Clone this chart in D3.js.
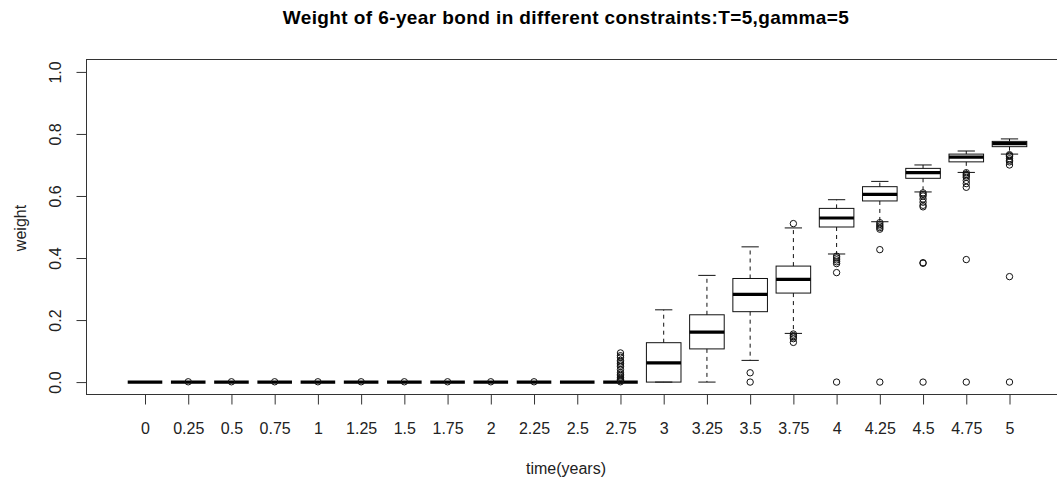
<!DOCTYPE html>
<html>
<head>
<meta charset="utf-8">
<script src="https://cdn.jsdelivr.net/npm/d3@7"></script>
<style>
  body { margin: 0; background: #fff; }
  svg { display: block; font-family: "Liberation Sans", Arial, sans-serif; }
</style>
</head>
<body>
<div class="chart"></div>
<script>
// box stats, one entry per time
const times = ['0','0.25','0.5','0.75','1','1.25','1.5','1.75','2','2.25','2.5','2.75',
  '3','3.25','3.5','3.75','4','4.25','4.5','4.75','5'];
const whiskLow  = [0,0,0,0,0,0,0,0,0,0,0,0, 0,     0,     0.070, 0.157, 0.413, 0.517, 0.613, 0.676, 0.735];
const q1        = [0,0,0,0,0,0,0,0,0,0,0,0, 0,     0.107, 0.227, 0.287, 0.500, 0.584, 0.657, 0.710, 0.759];
const medians   = [0,0,0,0,0,0,0,0,0,0,0,0, 0.062, 0.161, 0.283, 0.331, 0.529, 0.605, 0.675, 0.725, 0.769];
const q3        = [0,0,0,0,0,0,0,0,0,0,0,0, 0.127, 0.217, 0.334, 0.374, 0.560, 0.630, 0.689, 0.735, 0.776];
const whiskHigh = [0,0,0,0,0,0,0,0,0,0,0,0, 0.233, 0.344, 0.436, 0.497, 0.588, 0.647, 0.700, 0.745, 0.784];
const outliers = [
  [], [0.001], [0.001], [0.001], [0.001], [0.001], [0.001], [0.001], [0.001], [0.001], [],
  [0.001,0.005,0.008,0.01,0.015,0.02,0.025,0.03,0.04,0.05,0.055,0.06,0.065,0.07,0.08,0.085,0.094],
  [], [], [0.030, 0],
  [0.511, 0.155, 0.150, 0.145, 0.140, 0.128],
  [0.406, 0.400, 0.394, 0.388, 0.382, 0.353, 0],
  [0.514, 0.508, 0.503, 0.498, 0.493, 0.427, 0],
  [0.610, 0.605, 0.600, 0.590, 0.580, 0.570, 0.565, 0.385, 0.383, 0],
  [0.675, 0.670, 0.665, 0.660, 0.650, 0.640, 0.628, 0.395, 0],
  [0.733, 0.730, 0.728, 0.720, 0.715, 0.710, 0.700, 0.340, 0]
];
const yTicks = [0, 0.2, 0.4, 0.6, 0.8, 1.0];

const width = 1057, height = 483;
const svg = d3.select('.chart').append('svg')
  .attr('width', width).attr('height', height);

const x = d3.scaleLinear().domain([0, times.length - 1]).range([145, 1009.5]);
const y = d3.scaleLinear().domain([-0.04, 1.04]).range([394.5, 59.5]);
const step = x(1) - x(0);
const bw = step * 0.4;   // half box width

// frame (right side runs past the window as in the original)
svg.append('rect')
  .attr('x', 86.5).attr('y', 59.5)
  .attr('width', 1100).attr('height', 335)
  .attr('fill', 'none').attr('stroke', '#333').attr('stroke-width', 1);

const boxes = svg.selectAll('g.box')
  .data(times.map((t, i) => i))
  .enter().append('g')
  .attr('class', 'box');

// dashed whiskers
boxes.append('line')
  .attr('x1', i => x(i)).attr('x2', i => x(i))
  .attr('y1', i => y(q3[i])).attr('y2', i => y(whiskHigh[i]))
  .attr('stroke', '#111').attr('stroke-dasharray', '4,4');
boxes.append('line')
  .attr('x1', i => x(i)).attr('x2', i => x(i))
  .attr('y1', i => y(q1[i])).attr('y2', i => y(whiskLow[i]))
  .attr('stroke', '#111').attr('stroke-dasharray', '4,4');

// staples
[whiskLow, whiskHigh].forEach(arr => {
  boxes.append('line')
    .attr('x1', i => x(i) - bw / 2).attr('x2', i => x(i) + bw / 2)
    .attr('y1', i => y(arr[i])).attr('y2', i => y(arr[i]))
    .attr('stroke', '#111');
});

// boxes
boxes.append('rect')
  .attr('x', i => x(i) - bw)
  .attr('y', i => y(q3[i]))
  .attr('width', bw * 2)
  .attr('height', i => y(q1[i]) - y(q3[i]))
  .attr('fill', 'none').attr('stroke', '#111');

// medians
boxes.append('line')
  .attr('x1', i => x(i) - bw).attr('x2', i => x(i) + bw)
  .attr('y1', i => y(medians[i])).attr('y2', i => y(medians[i]))
  .attr('stroke', '#000').attr('stroke-width', 3.2);

// outliers
boxes.selectAll('circle')
  .data(i => outliers[i].map(v => ({i: i, v: v})))
  .enter().append('circle')
  .attr('cx', d => x(d.i)).attr('cy', d => y(d.v))
  .attr('r', 3.2)
  .attr('fill', 'none').attr('stroke', '#111').attr('stroke-width', 1);

// y axis
const yAxis = svg.append('g')
  .attr('transform', 'translate(86.5,0)')
  .call(d3.axisLeft(y).tickValues(yTicks).tickFormat(d3.format('.1f')).tickSize(10));
yAxis.select('.domain').remove();
yAxis.selectAll('line').attr('stroke', '#333');
yAxis.selectAll('text')
  .attr('x', null).attr('dy', null)
  .attr('transform', 'translate(-30,0) rotate(-90)')
  .attr('text-anchor', 'middle')
  .attr('dominant-baseline', 'middle')
  .attr('font-size', '16px')
  .attr('font-family', '"Liberation Sans", Arial, sans-serif')
  .attr('fill', '#222');

// x axis
const xAxis = svg.append('g')
  .attr('transform', 'translate(0,394.5)')
  .call(d3.axisBottom(x).tickValues(d3.range(times.length)).tickFormat(i => times[i]).tickSize(10));
xAxis.select('.domain').remove();
xAxis.selectAll('line').attr('stroke', '#333');
xAxis.selectAll('text')
  .attr('y', 35).attr('dy', null)
  .attr('dominant-baseline', 'middle')
  .attr('font-size', '16px')
  .attr('font-family', '"Liberation Sans", Arial, sans-serif')
  .attr('fill', '#222');

// titles
svg.append('text')
  .attr('x', 566).attr('y', 19)
  .attr('text-anchor', 'middle').attr('dominant-baseline', 'middle')
  .attr('font-size', '19px').attr('font-weight', 'bold')
  .attr('letter-spacing', '0.4px')
  .text('Weight of 6-year bond in different constraints:T=5,gamma=5');

svg.append('text')
  .attr('x', 566).attr('y', 470)
  .attr('text-anchor', 'middle').attr('dominant-baseline', 'middle')
  .attr('font-size', '16px').attr('fill', '#222')
  .text('time(years)');

svg.append('text')
  .attr('transform', 'translate(22,228) rotate(-90)')
  .attr('text-anchor', 'middle').attr('dominant-baseline', 'middle')
  .attr('font-size', '16px').attr('fill', '#222')
  .text('weight');
</script>
</body>
</html>
